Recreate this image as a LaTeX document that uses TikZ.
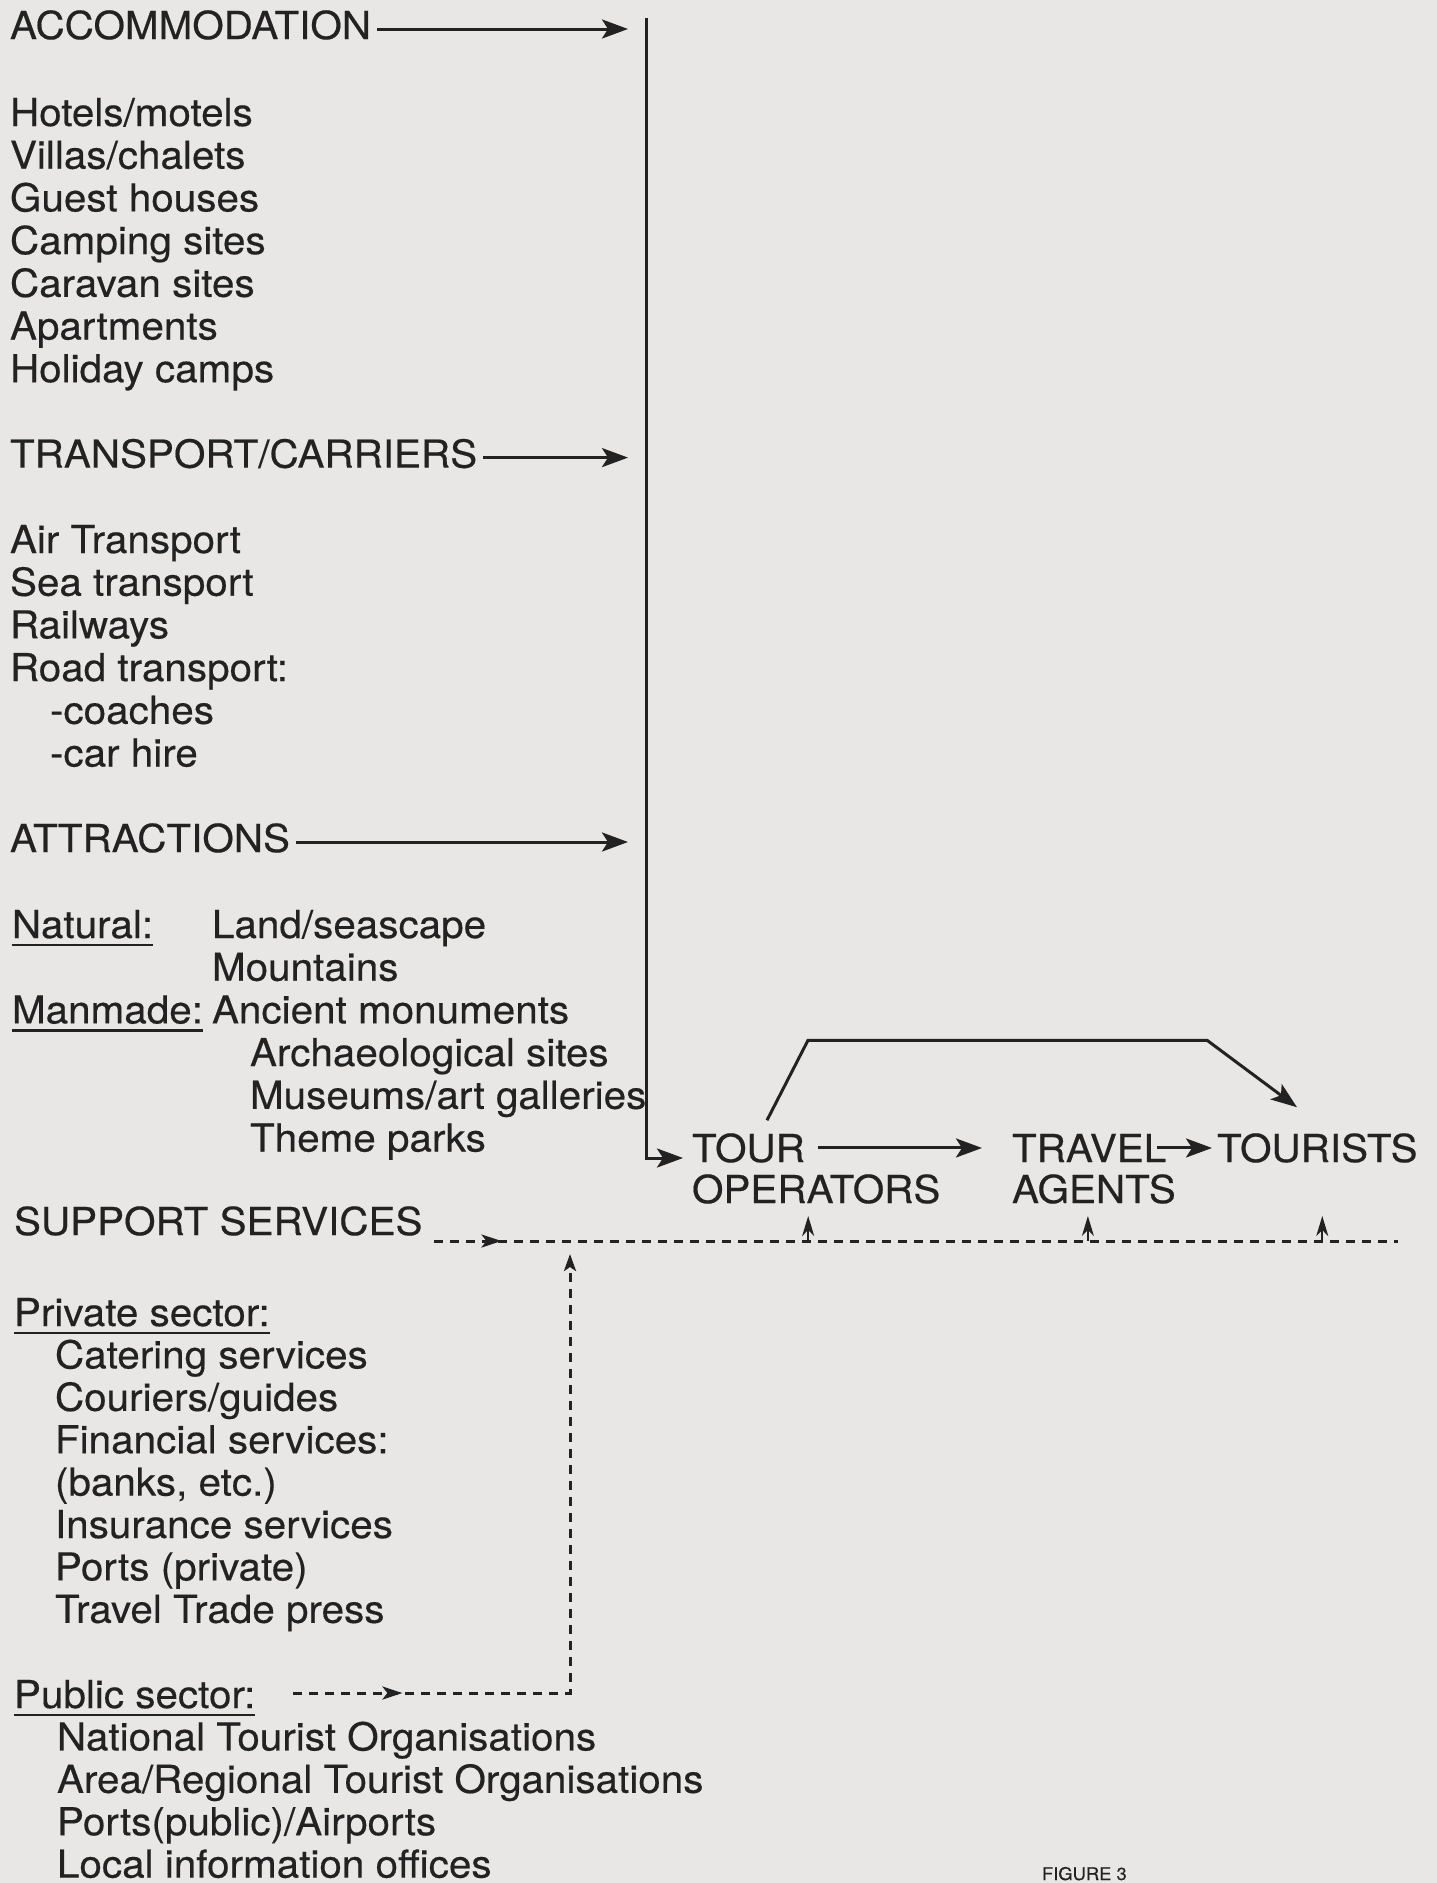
\documentclass[tikz,border=0pt]{standalone}
\usepackage{fontspec}
\setmainfont{TeX Gyre Heros}[FakeStretch=1.05,FakeBold=0.4]
\usetikzlibrary{arrows.meta,decorations.markings}
\definecolor{paper}{RGB}{233,231,230}
\definecolor{ink}{RGB}{34,34,34}

\begin{document}
\begin{tikzpicture}[x=1pt,y=-1pt,
  txt/.style={anchor=base west,inner sep=0pt,outer sep=0pt,text=ink,
              font=\fontsize{38.5}{42.7}\selectfont},
  arr/.style={draw=ink,line width=3pt,-{Stealth[length=26pt,width=19pt,inset=6pt]}},
  dline/.style={draw=ink,line width=3pt,dash pattern=on 8.5pt off 7.5pt},
  sarr/.style={draw=ink,line width=1.8pt,-{Stealth[length=20pt,width=12pt,inset=6pt]}},
  uline/.style={draw=ink,line width=2.2pt},
  midtip/.style={postaction={decorate},decoration={markings,
      mark=at position #1 with {\arrow{Stealth[length=20pt,width=13pt,inset=5pt]}}}},
]
\fill[paper] (0,0) rectangle (1437,1883);
\useasboundingbox (0,0) rectangle (1437,1883);

% ---- accommodation ----
\node[txt] (acc) at (10,39) {ACCOMMODATION};
\node[txt] (a1) at (10,126.0) {Hotels/motels};
\node[txt] (a2) at (10,168.7) {Villas/chalets};
\node[txt] (a3) at (10,211.4) {Guest houses};
\node[txt] (a4) at (10,254.1) {Camping sites};
\node[txt] (a5) at (10,296.8) {Caravan sites};
\node[txt] (a6) at (10,339.5) {Apartments};
\node[txt] (a7) at (10,382.2) {Holiday camps};

% ---- transport ----
\node[txt] (trn) at (10,467.6) {TRANSPORT/CARRIERS};
\node[txt] (t1) at (10,553.0) {Air Transport};
\node[txt] (t2) at (10,595.7) {Sea transport};
\node[txt] (t3) at (10,638.4) {Railways};
\node[txt] (t4) at (10,681.1) {Road transport:};
\node[txt] (t5) at (50,723.8) {-coaches};
\node[txt] (t6) at (50,766.5) {-car hire};

% ---- attractions ----
\node[txt] (att) at (10,852.0) {ATTRACTIONS};
\node[txt] (nat) at (12,938.0) {Natural:};
\node[txt] (n1) at (212,938.0) {Land/seascape};
\node[txt] (n2) at (212,980.7) {Mountains};
\node[txt] (man) at (12,1023.4) {Manmade:};
\node[txt] (m1) at (212,1023.4) {Ancient monuments};
\node[txt] (m2) at (250,1066.1) {Archaeological sites};
\node[txt] (m3) at (250,1108.8) {Museums/art galleries};
\node[txt] (m4) at (250,1151.5) {Theme parks};

% ---- support services ----
\node[txt] (sup) at (14,1235.0) {SUPPORT SERVICES};
\node[txt] (prv) at (14,1326.0) {Private sector:};
\node[txt] (p1) at (55,1368.4) {Catering services};
\node[txt] (p2) at (55,1410.8) {Couriers/guides};
\node[txt] (p3) at (55,1453.2) {Financial services:};
\node[txt] (p4) at (55,1495.6) {(banks, etc.)};
\node[txt] (p5) at (55,1538.0) {Insurance services};
\node[txt] (p6) at (55,1580.4) {Ports (private)};
\node[txt] (p7) at (55,1622.8) {Travel Trade press};
\node[txt] (pub) at (14,1708.0) {Public sector:};
\node[txt] (q1) at (57,1750.4) {National Tourist Organisations};
\node[txt] (q2) at (57,1792.8) {Area/Regional Tourist Organisations};
\node[txt] (q3) at (57,1835.2) {Ports(public)/Airports};
\node[txt] (q4) at (57,1877.6) {Local information offices};

% ---- trade chain ----
\node[txt] (tour) at (692,1162) {TOUR};
\node[txt] (ops)  at (692,1203) {OPERATORS};
\node[txt] (trav) at (1012,1162) {TRAVEL};
\node[txt] (agt)  at (1012,1203) {AGENTS};
\node[txt] (tst)  at (1217,1162) {TOURISTS};

\node[txt,font=\fontsize{17.5}{20}\selectfont] (fig) at (1042,1880) {FIGURE 3};

% underlined sub-headings
\foreach \n in {nat,man,prv,pub}
  \draw[uline] ([yshift=-7pt]\n.base west) -- ([yshift=-7pt]\n.base east);

% collector line from the three supply sectors
\coordinate (vtop) at (646,18);
\foreach \n in {acc,trn,att}{
  \path ([xshift=6pt,yshift=10pt]\n.base east) coordinate (h-\n);
  \draw[arr,shorten >=18pt] (h-\n) -- (h-\n -| vtop);
}
\draw[arr] (vtop) |- ([xshift=-9pt,yshift=4pt]tour.base west);

% tour operators -> travel agents -> tourists
\draw[arr] ([xshift=13pt]tour.east) -- ([xshift=-30pt]trav.west |- tour.east);
\draw[arr] ([xshift=-9pt]trav.east) -- ([xshift=-5pt]tst.west |- trav.east);
\draw[arr] ([xshift=75pt,yshift=13pt]tour.north west) -- ++(41,-80) -- ++(399,0)
           -- ([xshift=80pt,yshift=26pt]tst.north west);

% support services line
\coordinate (sl) at (0,1241);
\coordinate (slend) at (1398,1241);
\coordinate (vpub) at (570,1241);
\draw[dline,midtip=67pt] ([xshift=12pt,yshift=-6pt]sup.base east) -- (slend);
\foreach \n/\dx in {ops/-8,agt/-6,tst/5}
  \draw[sarr] ([xshift=\dx pt]\n.south |- sl) -- ++(0,-25);

% public sector feeding the support line
\draw[dline,midtip=109pt,shorten >=13pt,-{Stealth[length=17pt,width=12pt,inset=4pt]}]
  ([xshift=38pt,yshift=15pt]pub.base east) -| (vpub);
\end{tikzpicture}
\end{document}
